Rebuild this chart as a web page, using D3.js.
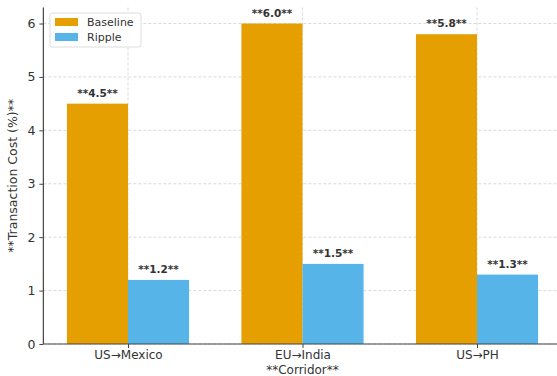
<!DOCTYPE html>
<html><head><meta charset="utf-8">
<script src="https://cdn.jsdelivr.net/npm/d3@7"></script>
<style>body{margin:0;background:#fff}svg{display:block;font-family:"DejaVu Sans",sans-serif}</style>
</head><body><svg id="c" width="557" height="376"></svg>
<script>
const categories = ["US→Mexico", "EU→India", "US→PH"];
const seriesNames = ["Baseline", "Ripple"];
const baseline = [4.5, 6.0, 5.8];
const ripple = [1.2, 1.5, 1.3];
const yTicks = [0, 1, 2, 3, 4, 5, 6];
const colors = ["#E69F00", "#56B4E9"];

const svg = d3.select("#c");
const x0 = 128, step = 174.5;
const x = d3.scaleLinear().domain([-0.485, 2.485]).range([x0 - 0.485 * step, x0 + 2.485 * step]);
const y = d3.scaleLinear().domain([0, 6.3]).range([344, 7.5]);
const bw = 0.35;

// grid
const g = svg.append("g");
g.selectAll(".hg").data(yTicks).join("line")
  .attr("x1", x(-0.485)).attr("x2", 557).attr("y1", d => y(d)).attr("y2", d => y(d))
  .attr("stroke", "#d0d0d0").attr("stroke-width", 0.8).attr("stroke-dasharray", "3,2");
g.selectAll(".vg").data(categories).join("line")
  .attr("x1", (d, i) => x(i)).attr("x2", (d, i) => x(i)).attr("y1", y(6.3)).attr("y2", y(0))
  .attr("stroke", "#d0d0d0").attr("stroke-width", 0.8).attr("stroke-dasharray", "3,2");

const series = [baseline, ripple];
series.forEach((vals, s) => {
  const off = s === 0 ? -bw : 0;
  svg.append("g").selectAll("rect").data(vals).join("rect")
    .attr("x", (d, i) => x(i + off)).attr("width", x(bw) - x(0))
    .attr("y", d => y(d)).attr("height", d => y(0) - y(d))
    .attr("fill", colors[s]);
  svg.append("g").selectAll("text").data(vals).join("text")
    .attr("x", (d, i) => x(i + off + bw / 2)).attr("y", d => y(d) - 7)
    .attr("text-anchor", "middle").attr("font-size", 10.5).attr("font-weight", "bold")
    .attr("fill", "#333").text(d => "**" + d.toFixed(1) + "**");
});

// axes
const yAxis = d3.axisLeft(y).tickValues(yTicks).tickFormat(d3.format("d")).tickSize(4).tickPadding(4);
const ya = svg.append("g").attr("transform", `translate(${x(-0.485)},0)`).call(yAxis);
const xAxis = d3.axisBottom(x).tickValues([0, 1, 2]).tickFormat(i => categories[i]).tickSize(4).tickPadding(2);
const xa = svg.append("g").attr("transform", `translate(0,${y(0)})`).call(xAxis);
[ya, xa].forEach(a => {
  a.selectAll("text").attr("font-size", 12.5).attr("fill", "#333").attr("font-family", "DejaVu Sans");
  a.selectAll("line").attr("stroke", "#444");
  a.select(".domain").attr("stroke", "#444").attr("stroke-width", 1.2);
});
xa.selectAll("text").attr("font-size", 12);
xa.select(".domain").attr("d", `M${x(-0.485)},0H557`);
ya.select(".domain").attr("d", `M0,${y(6.3)}V${y(0)}`);

svg.append("text").attr("transform", `translate(17,${(y(0) + y(6.3)) / 2}) rotate(-90)`)
  .attr("text-anchor", "middle").attr("font-size", 12.5).attr("fill", "#333")
  .text("**Transaction Cost (%)**");
svg.append("text").attr("x", x(1)).attr("y", 373.5).attr("text-anchor", "middle")
  .attr("font-size", 12).attr("fill", "#333").text("**Corridor**");

// legend
const lg = svg.append("g").attr("transform", "translate(50,13)");
lg.append("rect").attr("width", 91).attr("height", 34).attr("rx", 2)
  .attr("fill", "#fff").attr("fill-opacity", 0.85).attr("stroke", "#ddd");
seriesNames.forEach((n, i) => {
  lg.append("rect").attr("x", 5).attr("y", 5 + i * 15).attr("width", 23).attr("height", 8).attr("fill", colors[i]);
  lg.append("text").attr("x", 37).attr("y", 13 + i * 15).attr("font-size", 11).attr("fill", "#333").text(n);
});
</script></body></html>
